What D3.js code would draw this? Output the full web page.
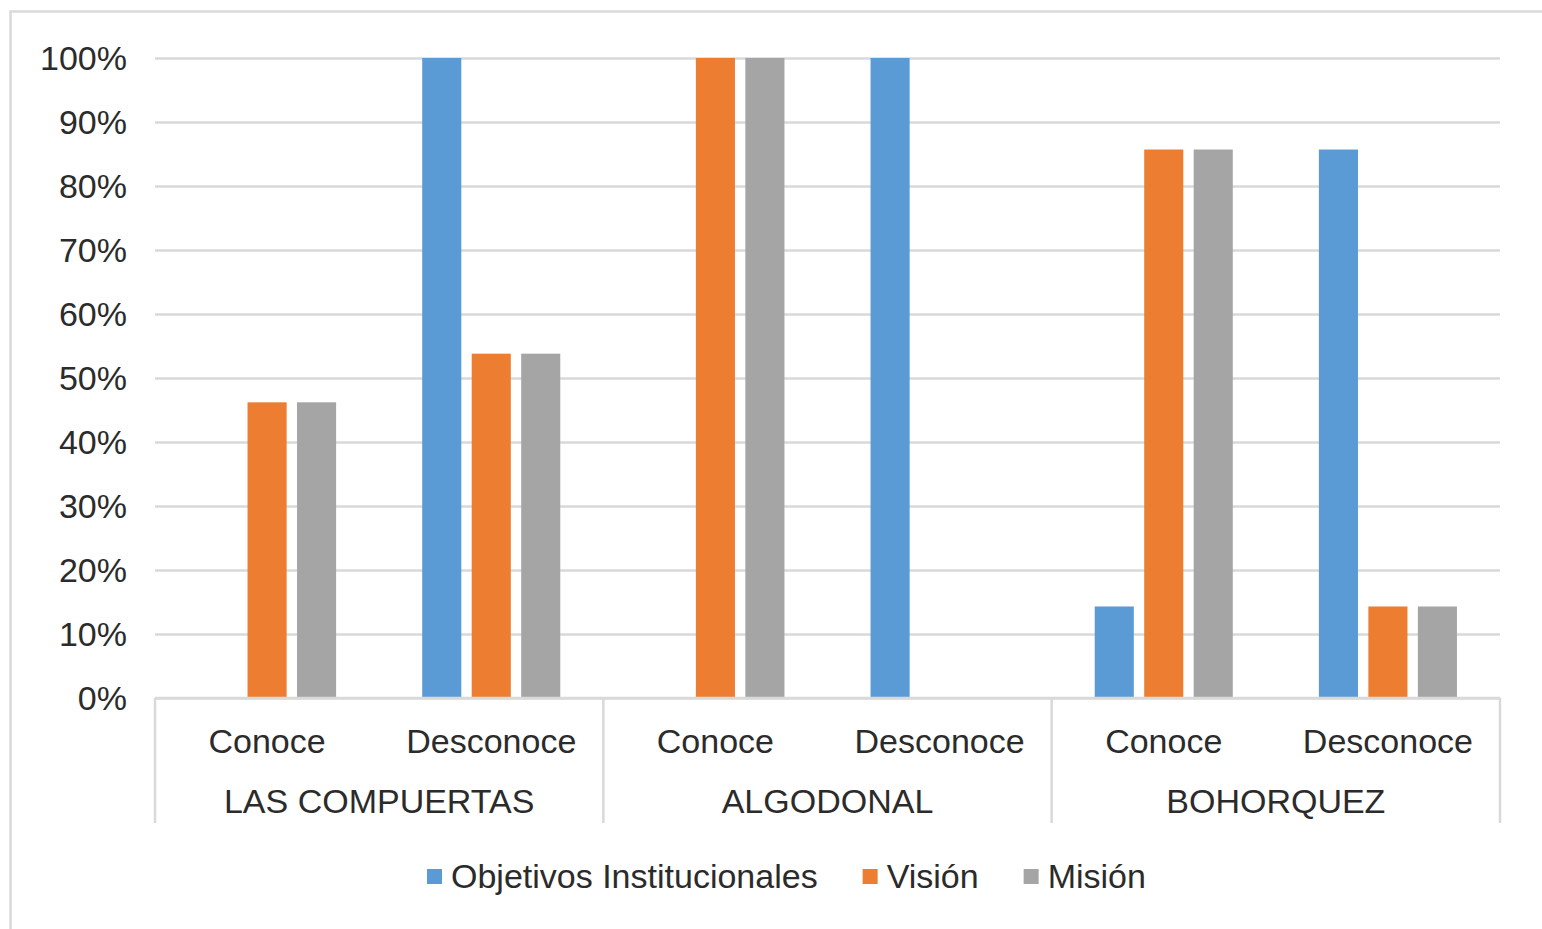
<!DOCTYPE html>
<html>
<head>
<meta charset="utf-8">
<script src="https://cdn.jsdelivr.net/npm/d3@7"></script>
<style>
  body { margin: 0; background: #fff; }
  svg text { font-family: "Liberation Sans", Arial, sans-serif; fill: #2b2b2b; }
</style>
</head>
<body>
<script>
const groups = ["LAS COMPUERTAS", "ALGODONAL", "BOHORQUEZ"];
const subcats = ["Conoce", "Desconoce"];
const seriesNames = ["Objetivos Institucionales", "Visión", "Misión"];
const seriesColors = ["#5b9bd5", "#ed7d31", "#a5a5a5"];
// one value per group/subcategory pair, in order
const objetivos = [0, 100, 0, 100, 14.3, 85.7];
const vision = [46.2, 53.8, 100, 0, 85.7, 14.3];
const mision = [46.2, 53.8, 100, 0, 85.7, 14.3];
const yTicks = [0, 10, 20, 30, 40, 50, 60, 70, 80, 90, 100];

const W = 1542, H = 929;
const plot = { left: 155, right: 1500, top: 58, bottom: 698 };
const fontSize = 34;

const keys = [];
groups.forEach(g => subcats.forEach(s => keys.push(g + "|" + s)));
const seriesValues = [objetivos, vision, mision];

const svg = d3.select("body").append("svg")
  .attr("width", W)
  .attr("height", H);

// outer frame
svg.append("rect")
  .attr("x", 10.5).attr("y", 11.5)
  .attr("width", W + 20).attr("height", H + 20)
  .attr("fill", "none")
  .attr("stroke", "#d9d9d9")
  .attr("stroke-width", 2.5);

const x0 = d3.scaleBand().domain(keys).range([plot.left, plot.right]).padding(0);
const x1 = d3.scaleBand().domain(seriesNames).range([0, x0.bandwidth()])
  .paddingInner(0.21).paddingOuter(0.87);
const xg = d3.scaleBand().domain(groups).range([plot.left, plot.right]).padding(0);
const y = d3.scaleLinear().domain([0, 100]).range([plot.bottom, plot.top]);

// gridlines + y labels
const yAxis = d3.axisLeft(y)
  .tickValues(yTicks)
  .tickFormat(d => d + "%")
  .tickSize(-(plot.right - plot.left))
  .tickPadding(28);

const yg = svg.append("g")
  .attr("transform", `translate(${plot.left},0)`)
  .call(yAxis);
yg.select(".domain").remove();
yg.selectAll(".tick line").attr("stroke", "#d9d9d9").attr("stroke-width", 2.5);
yg.selectAll(".tick text")
  .attr("font-size", fontSize)
  .attr("dy", "0.35em");

// bars
const rows = [];
keys.forEach((k, i) => {
  seriesNames.forEach((s, j) => {
    rows.push({ key: k, series: s, value: seriesValues[j][i], color: seriesColors[j] });
  });
});

svg.append("g").selectAll("rect")
  .data(rows)
  .join("rect")
  .attr("x", d => x0(d.key) + x1(d.series))
  .attr("y", d => y(d.value))
  .attr("width", x1.bandwidth())
  .attr("height", d => y(0) - y(d.value))
  .attr("fill", d => d.color);

// category axis: baseline and separators
const catAxis = svg.append("g");
catAxis.append("line")
  .attr("x1", plot.left).attr("x2", plot.right)
  .attr("y1", plot.bottom).attr("y2", plot.bottom)
  .attr("stroke", "#d9d9d9").attr("stroke-width", 2.5);

const seps = groups.map(g => xg(g)).concat([plot.right]);
catAxis.selectAll(".sep")
  .data(seps)
  .join("line")
  .attr("class", "sep")
  .attr("x1", d => d).attr("x2", d => d)
  .attr("y1", plot.bottom).attr("y2", 823)
  .attr("stroke", "#d9d9d9").attr("stroke-width", 2.5);

catAxis.selectAll(".sub")
  .data(keys)
  .join("text")
  .attr("class", "sub")
  .attr("x", d => x0(d) + x0.bandwidth() / 2)
  .attr("y", 741)
  .attr("dy", "0.35em")
  .attr("text-anchor", "middle")
  .attr("font-size", fontSize)
  .text(d => d.split("|")[1]);

catAxis.selectAll(".grp")
  .data(groups)
  .join("text")
  .attr("class", "grp")
  .attr("x", d => xg(d) + xg.bandwidth() / 2)
  .attr("y", 801)
  .attr("dy", "0.35em")
  .attr("text-anchor", "middle")
  .attr("font-size", fontSize)
  .text(d => d);

// legend
const legend = svg.append("g").attr("transform", "translate(427,876)");
let lx = 0;
seriesNames.forEach((s, i) => {
  const item = legend.append("g").attr("transform", `translate(${lx},0)`);
  item.append("rect")
    .attr("x", 0).attr("y", -7)
    .attr("width", 15).attr("height", 15)
    .attr("fill", seriesColors[i]);
  const t = item.append("text")
    .attr("x", 24)
    .attr("y", 0)
    .attr("dy", "0.35em")
    .attr("font-size", fontSize)
    .text(s);
  lx += 24 + t.node().getComputedTextLength() + 45;
});
</script>
</body>
</html>
